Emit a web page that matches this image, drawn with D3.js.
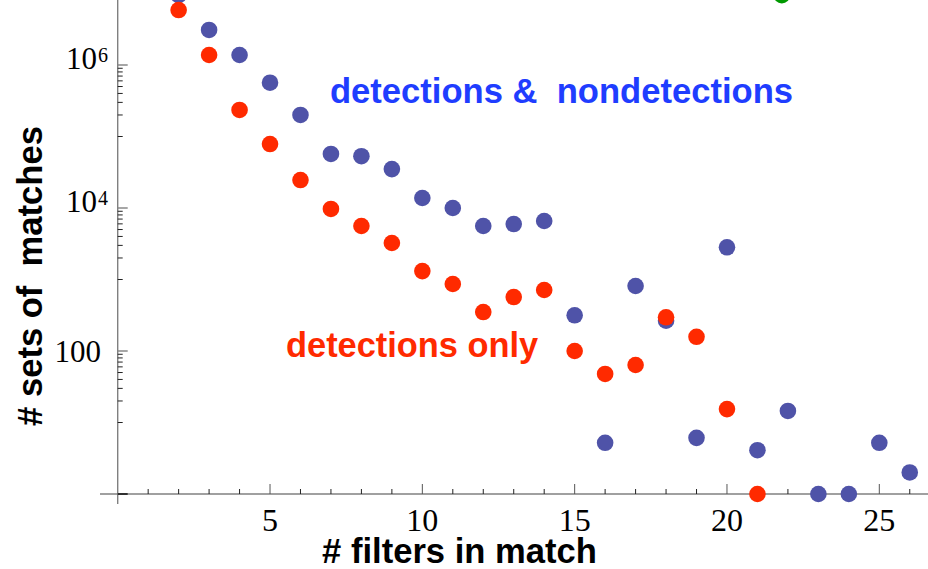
<!DOCTYPE html>
<html><head><meta charset="utf-8">
<script src="https://cdn.jsdelivr.net/npm/d3@7"></script>
<style>html,body{margin:0;padding:0;background:#fff;}svg{display:block;}</style>
</head><body>
<svg id="chart" width="928" height="569"></svg>
<script>
// ---- data ----
const filtersBlue = [2,3,4,5,6,7,8,9,10,11,12,13,14,15,16,17,18,19,20,21,22,23,24,25,26];
const matchesBlue = [9.5e6,3.09e6,1.38e6,5.65e5,2.0e5,5.7e4,5.3e4,3.5e4,1.38e4,1.0e4,5.6e3,5.97e3,6.58e3,316,5.2,811,265,6.1,2820,4.1,14.5,1,1,5.2,2];
const filtersRed = [2,3,4,5,6,7,8,9,10,11,12,13,14,15,16,17,18,19,20,21];
const matchesRed = [5.87e6,1.38e6,2.35e5,7.85e4,2.46e4,9.7e3,5.6e3,3.24e3,1.31e3,865,351,569,713,100,47.7,63.7,296,158,15.4,1];
const filtersGreen = [21.8];
const matchesGreen = [9.5e6];
const xTickValues = [5,10,15,20,25];
const yTickValues = [1,100,1e4,1e6];
const yTickLabels = [["",""],["100",""],["10","4"],["10","6"]];
const labelBoth = "detections &  nondetections";
const labelDet = "detections only";
const xTitle = "# filters in match";
const yTitle = "# sets of  matches";

// ---- scales ----
const svg = d3.select("#chart");
const x = d3.scaleLinear().domain([0,25]).range([117.7,879.3]);
const y = d3.scaleLog().domain([1,1e6]).range([494,65]);

const axisCol = "#808080";
// axis lines
svg.append("line").attr("x1",100).attr("x2",928).attr("y1",y(1)).attr("y2",y(1))
  .attr("stroke",axisCol).attr("stroke-width",1.4);
svg.append("line").attr("x1",x(0)).attr("x2",x(0)).attr("y1",0).attr("y2",504)
  .attr("stroke",axisCol).attr("stroke-width",1.4);

// x ticks
const xTicksAll = d3.range(1,27);
svg.append("g").selectAll("line").data(xTicksAll).join("line")
  .attr("x1",d=>x(d)).attr("x2",d=>x(d))
  .attr("y1",y(1)).attr("y2",d=> y(1) - (d%5===0?10:5))
  .attr("stroke",d=>d%5===0?"#555":"#222").attr("stroke-width",1);
svg.append("g").selectAll("text").data(xTickValues).join("text")
  .attr("x",d=>x(d)).attr("y",531).attr("text-anchor","middle")
  .attr("font-family","'Liberation Serif','Times New Roman',serif").attr("font-size",32)
  .attr("fill","#000").text(d=>d);

// y ticks
svg.append("g").selectAll("line").data(yTickValues).join("line")
  .attr("x1",x(0)).attr("x2",x(0)+10).attr("y1",d=>y(d)).attr("y2",d=>y(d))
  .attr("stroke",d=>d===1?"#000":axisCol).attr("stroke-width",1.4);
const yMinor = [];
[2,4,6].forEach(n=>{ for(let k=1;k<=9;k++) yMinor.push(k*Math.pow(10,n-1)); });
svg.append("g").selectAll("line").data(yMinor).join("line")
  .attr("x1",x(0)).attr("x2",x(0)+5).attr("y1",d=>y(d)).attr("y2",d=>y(d))
  .attr("stroke","#222").attr("stroke-width",1);
const yLab = yTickValues.map((v,i)=>({v,l:yTickLabels[i]})).filter(d=>d.l[0]!=="");
svg.append("g").selectAll("text").data(yLab).join("text")
  .attr("x",d=> d.l[1]? 97 : 101).attr("y",d=>y(d.v)+ (d.l[1]?4:11)).attr("text-anchor","end")
  .attr("font-family","'Liberation Serif','Times New Roman',serif").attr("font-size",31).attr("fill","#000")
  .text(d=>d.l[0]);
svg.append("g").selectAll("text").data(yLab.filter(d=>d.l[1]!=="")).join("text")
  .attr("x",98).attr("y",d=>y(d.v)-3).attr("text-anchor","start")
  .attr("font-family","'Liberation Serif','Times New Roman',serif").attr("font-size",20).attr("fill","#000")
  .text(d=>d.l[1]);

// points
const r = 8.3;
const blue = filtersBlue.map((f,i)=>({f,v:matchesBlue[i]}));
const red = filtersRed.map((f,i)=>({f,v:matchesRed[i]}));
const green = filtersGreen.map((f,i)=>({f,v:matchesGreen[i]}));
svg.append("g").selectAll("circle").data(blue).join("circle")
  .attr("cx",d=>x(d.f)).attr("cy",d=>y(d.v)).attr("r",r).attr("fill","#4F53A8");
svg.append("g").selectAll("circle").data(red).join("circle")
  .attr("cx",d=>x(d.f)).attr("cy",d=>y(d.v)).attr("r",r).attr("fill","#FF2A00");
svg.append("g").selectAll("circle").data(green).join("circle")
  .attr("cx",d=>x(d.f)).attr("cy",d=>y(d.v)).attr("r",r).attr("fill","#009900");

// annotation labels
const sans = "'Liberation Sans',Arial,Helvetica,sans-serif";
svg.append("text").attr("x",330).attr("y",103).attr("font-family",sans).attr("font-weight","bold")
  .attr("font-size",34.6).attr("fill","#1F3DFF").style("white-space","pre").text(labelBoth);
svg.append("text").attr("x",286).attr("y",357).attr("font-family",sans).attr("font-weight","bold")
  .attr("font-size",34.4).attr("fill","#FF2A00").style("white-space","pre").text(labelDet);

// axis titles
svg.append("text").attr("x",459.5).attr("y",563).attr("text-anchor","middle").attr("font-family",sans)
  .attr("font-weight","bold").attr("font-size",34.6).attr("fill","#000").text(xTitle);
svg.append("text").attr("transform","translate(42,276) rotate(-90)").attr("text-anchor","middle")
  .attr("font-family",sans).attr("font-weight","bold").attr("font-size",34.6).attr("fill","#000")
  .style("white-space","pre").text(yTitle);
</script>
</body></html>
